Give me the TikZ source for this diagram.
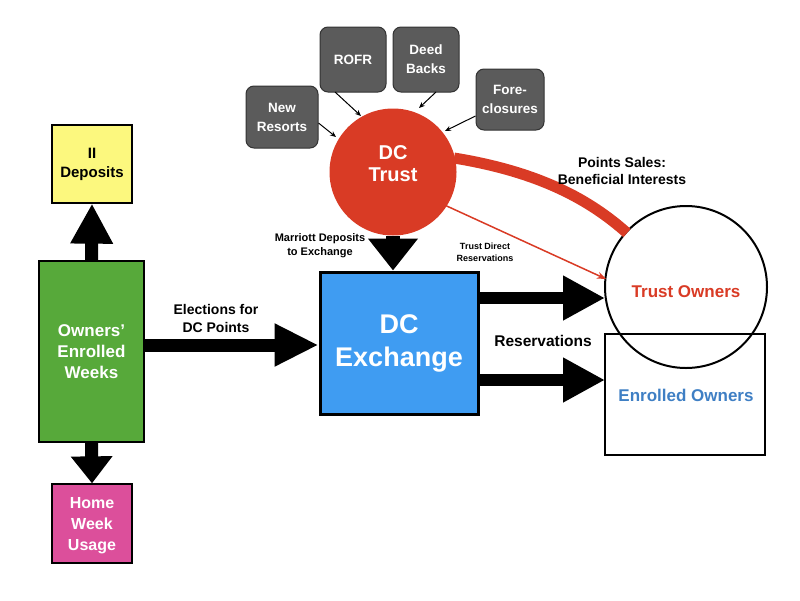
\documentclass[tikz,border=0pt]{standalone}
\usepackage{fontspec}
\setmainfont{Liberation Sans}
\usetikzlibrary{arrows.meta}
\definecolor{iiyellow}{HTML}{FCF87E}
\definecolor{owngreen}{HTML}{57A93A}
\definecolor{homepink}{HTML}{DC4F9B}
\definecolor{dcblue}{HTML}{3F9CF2}
\definecolor{trustred}{HTML}{D93B25}
\definecolor{srcgray}{HTML}{5B5B5B}
\definecolor{enrblue}{HTML}{3F7FC4}
\tikzset{
  fs/.style 2 args={font=\fontsize{#1}{#2}\selectfont\bfseries},
  sqbox/.style={draw=black, line width=1.3pt, align=center, inner sep=0pt},
  srcbox/.style={draw=black!80, fill=srcgray, rounded corners=8pt, line width=1pt, align=center, text=white, fs={13.5}{19}, inner sep=0pt},
  bigarrow/.style={line width=12pt, -{Triangle[length=42pt,width=42pt]}},
  thinarrow/.style={line width=1pt, -{Stealth[length=6pt,width=5pt]}},
  lbl/.style={align=center}
}
\begin{document}
\begin{tikzpicture}[x=1pt,y=-1pt]
\useasboundingbox (0,0) rectangle (800,600);
% boxes
\node[sqbox, fill=iiyellow, minimum width=80pt, minimum height=78pt, fs={15}{19}] (ii) at (92,164) {II\\Deposits};
\node[sqbox, fill=owngreen, minimum width=105pt, minimum height=181pt, text=white, fs={17}{21}] (own) at (91.5,351.5) {Owners'\\Enrolled\\Weeks};
\node[sqbox, fill=homepink, minimum width=80pt, minimum height=79pt, text=white, fs={16}{21}] (home) at (92,523.5) {};
\node[lbl, text=white, fs={16}{21}] (homelbl) at (92,526) {Home\\Week\\Usage};
\node[sqbox, fill=dcblue, line width=3pt, minimum width=158pt, minimum height=142pt, text=white, fs={27}{33}] (dcx) at (399,343) {DC\\Exchange};
\node[circle, fill=trustred, minimum size=127pt, inner sep=0pt] (trust) at (393,172) {};
\node[lbl, text=white, fs={20}{22}] (trustlbl) at (393,164) {DC\\Trust};
% source boxes
\node[srcbox, minimum width=72pt, minimum height=62pt] (newr) at (282,117) {New\\Resorts};
\node[srcbox, minimum width=66pt, minimum height=65pt] (rofr) at (353,59.5) {ROFR};
\node[srcbox, minimum width=66pt, minimum height=65pt] (deed) at (426,59.5) {Deed\\Backs};
\node[srcbox, minimum width=68pt, minimum height=61pt] (fore) at (510,99.5) {Fore-\\closures};
% owners
\node[draw=black, line width=1.5pt, minimum width=160pt, minimum height=121pt, inner sep=0pt] (enr) at (685,394.5) {};
\node[circle, draw=black, line width=2pt, minimum size=162pt, inner sep=0pt] (tro) at (686,287) {};
\node[text=trustred, fs={17}{20}] (trolbl) at (686,292) {Trust Owners};
\node[text=enrblue, fs={17}{20}] (enrlbl) at (686,395) {Enrolled Owners};
% thin arrows into trust
\draw[thinarrow] (newr.east |- 0,123) -- (336,137);
\draw[thinarrow] (335,92) -- (361,116);
\draw[thinarrow] (436,92) -- (419,108);
\draw[thinarrow] (fore.west |- 0,116) -- (445,131);
% big arrows
\draw[line width=13pt, -{Triangle[length=40pt,width=40pt]}] (own.north) -- (ii.south);
\draw[line width=13pt, -{Triangle[length=27pt,width=40pt]}] (own.south) -- (home.north);
\draw[line width=13pt, -{Triangle[length=44pt,width=40pt]}] (own.east |- 0,345) -- (dcx.west |- 0,345);
\draw[line width=14pt, -{Triangle[length=32pt,width=48pt]}] (trust.south) -- (dcx.north -| trust.south);
\draw[bigarrow] (dcx.east |- 0,298) -- (605,298);
\draw[bigarrow] (dcx.east |- 0,380) -- (605,380);
% red connectors
\draw[trustred, line width=11pt] (454,158) .. controls (540,172) and (590,200) .. (627,233);
\draw[trustred, line width=1.5pt, -{Stealth[length=9pt,width=7pt]}] (438,202) -- (606,279);
% labels
\node[lbl, fs={14}{17}] (ps) at (622,171) {Points Sales:\\Beneficial Interests};
\node[lbl, fs={11}{14}] (md) at (320,246) {Marriott Deposits\\to Exchange};
\node[lbl, fs={9}{12}] (tdr) at (485,252) {Trust Direct\\Reservations};
\node[lbl, fs={14}{18}] (el) at (216,318) {Elections for\\DC Points};
\node[lbl, fs={15.5}{18}] (res) at (543,341) {Reservations};
\end{tikzpicture}
\end{document}
